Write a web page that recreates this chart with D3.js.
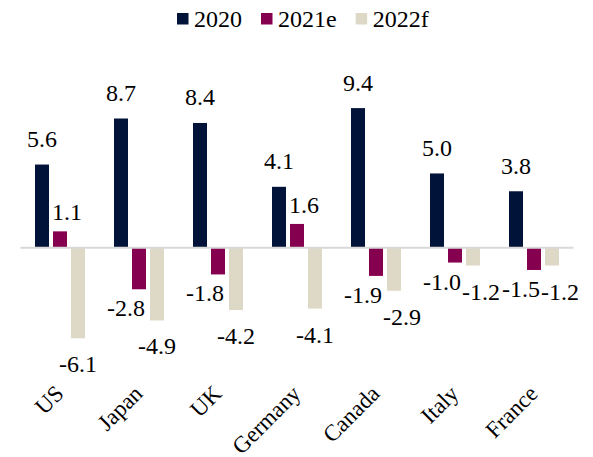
<!DOCTYPE html>
<html>
<head>
<meta charset="utf-8">
<script src="https://cdn.jsdelivr.net/npm/d3@7"></script>
<style>
  body { margin: 0; background: #fff; }
</style>
</head>
<body>
<div id="viz"></div>
<script>
const width = 593;
const height = 457;
const serif = "'Liberation Serif', 'Times New Roman', serif";

// data
const countries = ["US", "Japan", "UK", "Germany", "Canada", "Italy", "France"];
const series = ["2020", "2021e", "2022f"];
const v2020 = [5.6, 8.7, 8.4, 4.1, 9.4, 5.0, 3.8];
const v2021e = [1.1, -2.8, -1.8, 1.6, -1.9, -1.0, -1.5];
const v2022f = [-6.1, -4.9, -4.2, -4.1, -2.9, -1.2, -1.2];
const seriesValues = [v2020, v2021e, v2022f];

const svg = d3.select("#viz")
    .append("svg")
    .attr("width", width)
    .attr("height", height)
    .attr("font-family", serif);

const rows = [];
countries.forEach((c, i) => {
    series.forEach((s, j) => rows.push({country: c, key: s, value: seriesValues[j][i]}));
});

const x0 = d3.scaleBand()
    .domain(countries)
    .range([20.5, 573.5]);

const groupW = 50;
const x1 = d3.scaleBand()
    .domain(series)
    .range([0, groupW])
    .paddingInner(4 / 18);

const y = d3.scaleLinear()
    .domain([-7, 10])
    .range([351.65, 99.2]);

const color = d3.scaleOrdinal()
    .domain(series)
    .range(["#02133a", "#860050", "#ddd9c6"]);

// plain hyphen for negatives, like the original
const fmt = v => v.toFixed(1);
const barX = d => x0(d.country) + (x0.bandwidth() - groupW) / 2 + x1(d.key);

// bars
svg.append("g").selectAll("rect").data(rows)
    .enter().append("rect")
        .attr("x", barX)
        .attr("y", d => y(Math.max(0, d.value)))
        .attr("width", x1.bandwidth())
        .attr("height", d => Math.abs(y(d.value) - y(0)))
        .attr("fill", d => color(d.key));

// zero line
svg.append("line")
    .attr("x1", x0.range()[0])
    .attr("x2", x0.range()[1])
    .attr("y1", y(0))
    .attr("y2", y(0))
    .attr("stroke", "#d9d9d9")
    .attr("stroke-width", 2);

// value labels
const labels = svg.append("g").selectAll("text").data(rows)
    .enter().append("text")
        .attr("font-family", serif)
        .attr("font-size", 24)
        .attr("fill", "#000")
        .text(d => fmt(d.value))
        .each(function (d) {
            const t = d3.select(this);
            const left = barX(d);
            const right = left + x1.bandwidth();
            const mid = left + x1.bandwidth() / 2;
            if (d.key === "2020") {
                t.attr("x", mid).attr("y", y(d.value) - 17.5).attr("text-anchor", "middle");
            } else if (d.key === "2021e") {
                if (d.value >= 0) {
                    t.attr("x", left - 1).attr("y", y(d.value) - 11).attr("text-anchor", "start");
                } else {
                    t.attr("x", right - 1).attr("y", y(d.value) + 27).attr("text-anchor", "end");
                }
            } else {
                t.attr("x", mid).attr("y", y(d.value) + 34).attr("text-anchor", "middle");
            }
        });

// nudge 2022f labels right when they run into the 2021e label
const boxes = {};
labels.each(function (d) { boxes[d.country + d.key] = this.getBBox(); });
labels.filter(d => d.key === "2022f").each(function (d) {
    const a = boxes[d.country + "2021e"];
    const b = boxes[d.country + "2022f"];
    const vOverlap = a.y < b.y + b.height - 4 && b.y < a.y + a.height - 4;
    const hOverlap = b.x < a.x + a.width;
    if (vOverlap && hOverlap) {
        const shift = a.x + a.width - b.x + 1;
        d3.select(this).attr("x", +d3.select(this).attr("x") + shift);
    }
});

// category axis
const xAxis = d3.axisBottom(x0).tickSize(0);
const xAxisG = svg.append("g")
    .attr("transform", "translate(0, 395)")
    .call(xAxis)
    .attr("font-family", serif);
xAxisG.select(".domain").remove();
xAxisG.selectAll("text")
    .attr("x", 0)
    .attr("y", 0)
    .attr("dy", 0)
    .attr("font-size", 23)
    .attr("font-family", serif)
    .attr("fill", "#000")
    .attr("text-anchor", "end")
    .attr("transform", "translate(5, 0) rotate(-45)");

// legend
const legend = svg.append("g").attr("transform", "translate(177, 0)");
let lx = 0;
series.forEach(s => {
    const item = legend.append("g").attr("transform", `translate(${lx}, 0)`);
    item.append("rect")
        .attr("x", 0)
        .attr("y", 13)
        .attr("width", 11.5)
        .attr("height", 11.5)
        .attr("fill", color(s));
    const txt = item.append("text")
        .attr("x", 17)
        .attr("y", 26.5)
        .attr("font-family", serif)
        .attr("font-size", 24)
        .attr("fill", "#000")
        .text(s);
    lx += 17 + txt.node().getComputedTextLength() + 19;
});
</script>
</body>
</html>
